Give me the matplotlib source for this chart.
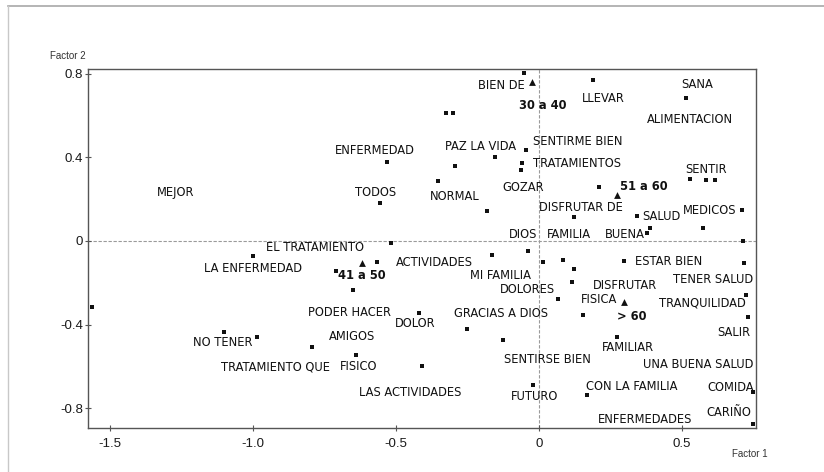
import matplotlib
matplotlib.use("Agg")
import matplotlib.pyplot as plt
from matplotlib import font_manager
from matplotlib.lines import Line2D

# ---------------- data ----------------
pt_x = [-0.052, 0.189, 0.514, -0.325, -0.301, -0.045, -0.154, -0.059, -0.063, -0.294,
        0.528, 0.584, 0.615, -0.353, 0.210, -0.182, 0.122, 0.343, 0.388, 0.378,
        0.573, 0.710, 0.713, -0.531, -0.556, -0.517, -1.000, -0.710, -0.566, -0.650,
        -1.563, -0.420, -1.101, -0.986, -0.794, -0.640, -0.164, -0.038, 0.014, 0.084,
        0.122, 0.115, 0.066, 0.297, 0.717, 0.724, 0.731, 0.154, -0.252, 0.273,
        -0.126, -0.409, -0.021, 0.168, 0.748, 0.748]
pt_y = [0.804, 0.770, 0.684, 0.612, 0.612, 0.435, 0.402, 0.373, 0.340, 0.359,
        0.297, 0.292, 0.292, 0.287, 0.258, 0.144, 0.115, 0.120, 0.062, 0.038,
        0.062, 0.148, 0.000, 0.378, 0.182, -0.010, -0.072, -0.144, -0.100, -0.234,
        -0.316, -0.344, -0.435, -0.459, -0.507, -0.545, -0.067, -0.048, -0.100, -0.091,
        -0.134, -0.196, -0.278, -0.096, -0.105, -0.258, -0.364, -0.354, -0.421, -0.459,
        -0.474, -0.598, -0.689, -0.737, -0.722, -0.876]

age_text = ["30 a 40", "51 a 60", "41 a 50", "> 60"]
age_x = [-0.024, 0.273, -0.619, 0.297]
age_y = [0.761, 0.220, -0.105, -0.292]
age_lx = [0.014, 0.367, -0.619, 0.325]
age_ly = [0.646, 0.263, -0.167, -0.359]

word_text = ["BIEN DE", "LLEVAR", "SANA", "ALIMENTACION", "PAZ LA VIDA", "SENTIRME BIEN",
             "TRATAMIENTOS", "SENTIR", "NORMAL", "GOZAR", "DISFRUTAR DE", "SALUD",
             "MEDICOS", "ENFERMEDAD", "MEJOR", "TODOS", "EL TRATAMIENTO", "LA ENFERMEDAD",
             "ACTIVIDADES", "DIOS", "FAMILIA", "BUENA", "ESTAR BIEN", "TENER SALUD",
             "MI FAMILIA", "DISFRUTAR", "DOLORES", "FISICA", "TRANQUILIDAD", "SALIR",
             "PODER HACER", "DOLOR", "GRACIAS A DIOS", "NO TENER", "AMIGOS",
             "TRATAMIENTO QUE", "FISICO", "FAMILIAR", "SENTIRSE BIEN", "UNA BUENA SALUD",
             "LAS ACTIVIDADES", "FUTURO", "CON LA FAMILIA", "COMIDA", "ENFERMEDADES", "CARIÑO"]
word_x = [-0.133, 0.224, 0.552, 0.528, -0.203, 0.136,
          0.133, 0.584, -0.294, -0.056, 0.147, 0.427,
          0.598, -0.573, -1.269, -0.570, -0.783, -1.000,
          -0.367, -0.056, 0.105, 0.301, 0.455, 0.608,
          -0.133, 0.301, -0.042, 0.210, 0.570, 0.682,
          -0.661, -0.434, -0.133, -1.105, -0.654,
          -0.923, -0.629, 0.311, 0.031, 0.556,
          -0.451, -0.017, 0.325, 0.671, 0.371, 0.664]
word_y = [0.742, 0.684, 0.751, 0.579, 0.450, 0.474,
          0.373, 0.340, 0.215, 0.254, 0.158, 0.115,
          0.144, 0.431, 0.230, 0.230, -0.029, -0.134,
          -0.105, 0.029, 0.029, 0.029, -0.100, -0.182,
          -0.163, -0.215, -0.234, -0.282, -0.297, -0.440,
          -0.340, -0.397, -0.349, -0.488, -0.459,
          -0.603, -0.603, -0.512, -0.565, -0.593,
          -0.727, -0.746, -0.694, -0.703, -0.852, -0.823]

x_ticks = [-1.5, -1.0, -0.5, 0, 0.5]
x_tick_labels = ["-1.5", "-1.0", "-0.5", "0", "0.5"]
y_ticks = [0.8, 0.4, 0, -0.4, -0.8]
y_tick_labels = ["0.8", "0.4", "0", "-0.4", "-0.8"]

# ---------------- fonts ----------------
fl = font_manager.fontManager.ttflist
names = {f.name for f in fl}
has_dvc = any(f.name == 'DejaVu Sans' and 'condensed' in str(f.stretch).lower() for f in fl)
if "Liberation Sans Narrow" in names:
    lab_font = dict(family=["Liberation Sans Narrow", "DejaVu Sans"], fontsize=10)
elif has_dvc:
    lab_font = dict(family=["DejaVu Sans"], fontstretch='condensed', fontsize=9.2)
else:
    lab_font = dict(family=["Liberation Sans", "DejaVu Sans"], fontsize=8.6)
plt.rcParams['font.family'] = ['Liberation Sans', 'DejaVu Sans']

fig = plt.figure(figsize=(8.24, 4.72), dpi=100)
ax = fig.add_axes([0.1068, 0.0932, 0.8107, 0.7606])

ax.set_xlim(-1.577, 0.759)
ax.set_ylim(-0.895, 0.823)

ax.axhline(0, color='#9a9a9a', lw=0.8, ls=(0, (3, 1.5)), zorder=1)
ax.axvline(0, color='#9a9a9a', lw=0.8, ls=(0, (3, 1.5)), zorder=1)

ax.scatter(pt_x, pt_y, marker='s', s=6, color='#111111', linewidths=0, zorder=3)
ax.scatter(age_x, age_y, marker='^', s=24, color='#111111', linewidths=0, zorder=3)

txt_col = '#111111'
for t, x, y in zip(word_text, word_x, word_y):
    ax.text(x, y, t, ha='center', va='center', color=txt_col, zorder=4, **lab_font)
for t, x, y in zip(age_text, age_lx, age_ly):
    ax.text(x, y, t, ha='center', va='center', color=txt_col,
            fontweight='bold', zorder=4, **lab_font)

for s in ['left', 'bottom', 'right', 'top']:
    ax.spines[s].set_color('#555555')
    ax.spines[s].set_linewidth(1.0)

ax.set_xticks(x_ticks)
ax.set_xticklabels(x_tick_labels)
ax.set_yticks(y_ticks)
ax.set_yticklabels(y_tick_labels)
ax.tick_params(axis='both', direction='inout', length=5, width=0.8, color='#555555',
               labelsize=9.5, labelcolor='#1a1a1a')
ax.tick_params(axis='y', pad=1)
ax.tick_params(axis='x', pad=5)

fig.text(50 / 824, 1 - 56 / 472, "Factor 2", fontsize=7, color='#333333', ha='left', va='center')
fig.text(732 / 824, 1 - 454 / 472, "Factor 1", fontsize=7, color='#333333', ha='left', va='center')

# outer frame lines (gray)
fig.add_artist(Line2D([8 / 824, 1], [1 - 6 / 472, 1 - 6 / 472], color='#a8a8a8', lw=1.2,
                      transform=fig.transFigure))
fig.add_artist(Line2D([8 / 824, 8 / 824], [0, 1 - 6 / 472], color='#c8c8c8', lw=1.0,
                      transform=fig.transFigure))

fig.savefig("out.png", dpi=100)
